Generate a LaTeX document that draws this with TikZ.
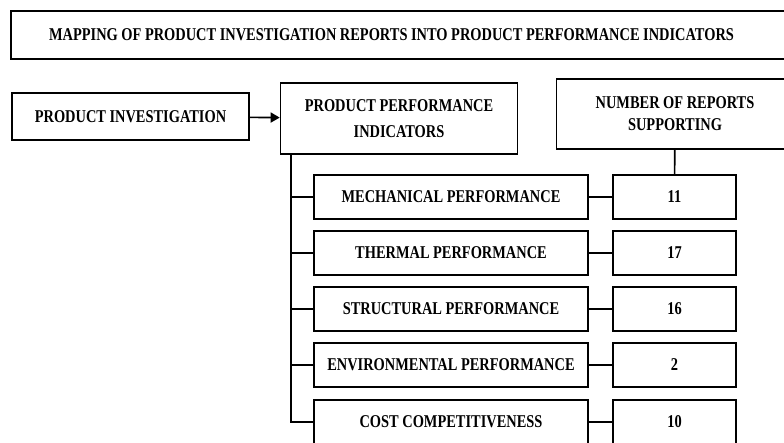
\documentclass[tikz,border=0pt]{standalone}
\usepackage{fontspec}
\newfontfamily\diafont[FakeStretch=0.8]{Liberation Serif}
\usetikzlibrary{arrows.meta,positioning,calc}

\begin{document}
\begin{tikzpicture}[
    x=1pt, y=-1pt,
    box/.style={draw, line width=1.6pt, align=center, inner sep=0pt, font=\diafont\bfseries\fontsize{18}{26}\selectfont},
    titlebox/.style={box, minimum width=779pt, minimum height=48pt},
    mainbox/.style={box, minimum width=237pt, minimum height=47pt},
    headbox/.style={box, minimum width=237pt, minimum height=71pt},
    itembox/.style={box, minimum width=274pt, minimum height=44pt},
    numbox/.style={box, minimum width=123pt, minimum height=44pt},
    link/.style={line width=1.6pt},
    >={Triangle[length=9pt,width=10pt]}
]
    \useasboundingbox (0,0) rectangle (784,443);
    \clip (0,0) rectangle (784,443);

    % Title
    \node[titlebox] (title) at (400.5,35) {MAPPING OF PRODUCT INVESTIGATION REPORTS INTO PRODUCT PERFORMANCE INDICATORS\hspace*{18pt}};

    % Top row
    \node[mainbox] (pinv) at (130.5,116.5) {PRODUCT INVESTIGATION};
    \node[headbox] (ppi) at (399,118.5) {PRODUCT PERFORMANCE\\INDICATORS};
    \node[headbox, font=\diafont\bfseries\fontsize{18}{22}\selectfont, minimum height=70pt] (nrs) at (675,114) {NUMBER OF REPORTS\\SUPPORTING};

    % Indicators
    \node[itembox] (mech) at (451,197) {MECHANICAL PERFORMANCE};
    \node[itembox] (therm) at (451,253) {THERMAL PERFORMANCE};
    \node[itembox] (struct) at (451,309) {STRUCTURAL PERFORMANCE};
    \node[itembox] (envir) at (451,365) {ENVIRONMENTAL PERFORMANCE};
    \node[itembox] (cost) at (451,422) {COST COMPETITIVENESS};

    % Report counts
    \node[numbox] (nmech) at (674.5,197) {11};
    \node[numbox] (ntherm) at (674.5,253) {17};
    \node[numbox] (nstruct) at (674.5,309) {16};
    \node[numbox] (nenvir) at (674.5,365) {2};
    \node[numbox] (ncost) at (674.5,422) {10};

    % Edges
    \draw[link, ->] (pinv) -- (ppi);
    \draw[link] ([xshift=11.5pt]ppi.south west) |- (mech.west);
    \draw[link] ([xshift=11.5pt]ppi.south west) |- (therm.west);
    \draw[link] ([xshift=11.5pt]ppi.south west) |- (struct.west);
    \draw[link] ([xshift=11.5pt]ppi.south west) |- (envir.west);
    \draw[link] ([xshift=11.5pt]ppi.south west) |- (cost.west);
    \draw[link] (nrs) -- (nmech);
    \draw[link] (mech) -- (nmech);
    \draw[link] (therm) -- (ntherm);
    \draw[link] (struct) -- (nstruct);
    \draw[link] (envir) -- (nenvir);
    \draw[link] (cost) -- (ncost);

\end{tikzpicture}
\end{document}
